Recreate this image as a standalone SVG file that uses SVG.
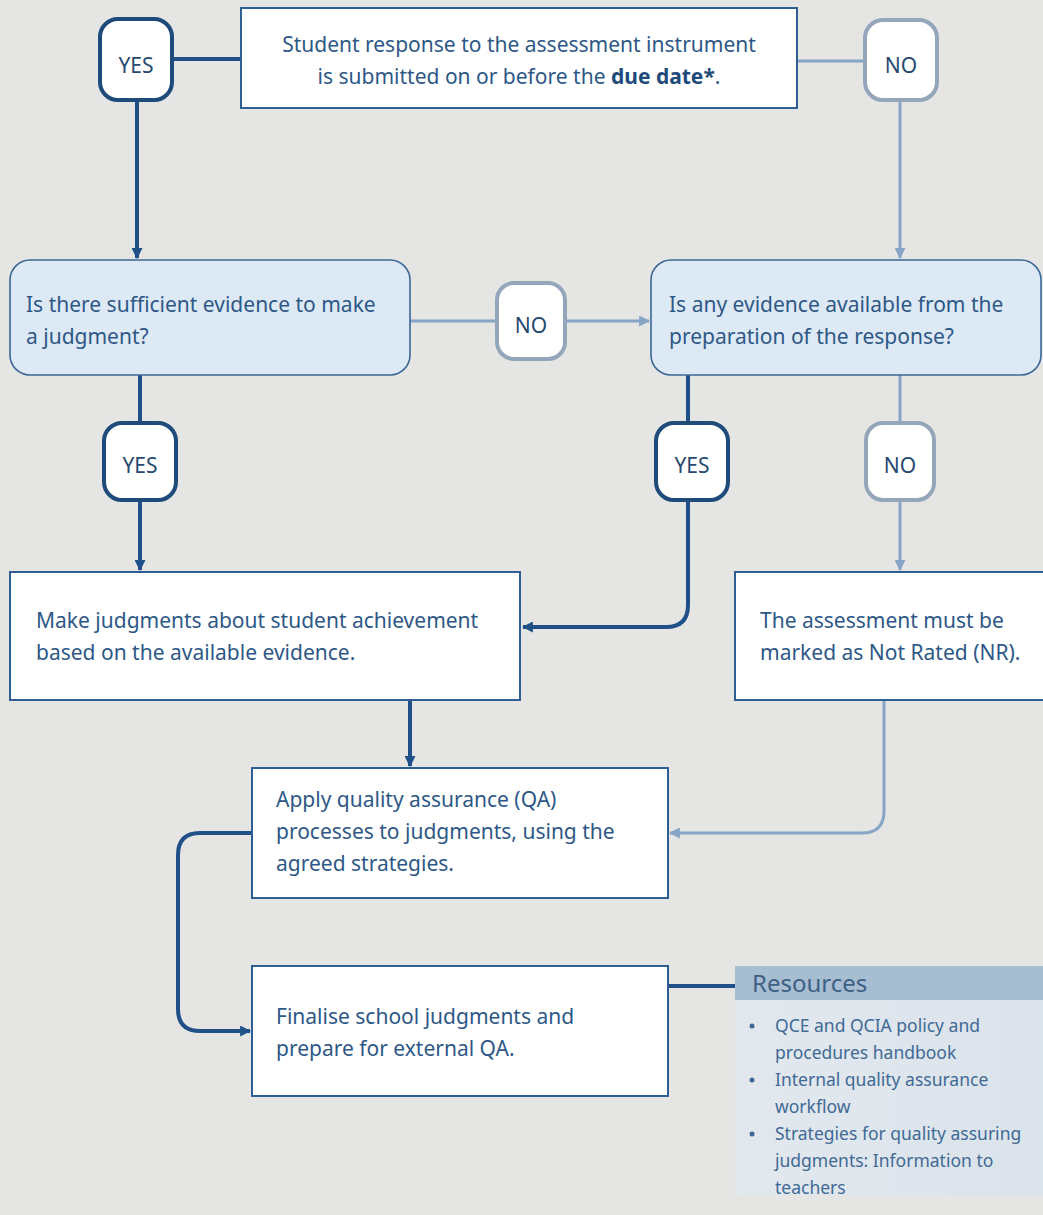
<svg xmlns="http://www.w3.org/2000/svg" width="1043" height="1215" viewBox="0 0 1043 1215">
<style>
.bg{fill:#e5e5e3}
.box{fill:#ffffff;stroke:#2f5f92;stroke-width:2}
.dec{fill:#dde9f4;stroke:#3b6896;stroke-width:1.6}
.pillD{fill:#ffffff;stroke:#1e4b7a;stroke-width:4}
.pillL{fill:#ffffff;stroke:#95a6ba;stroke-width:4}
.t{font-family:"Noto Sans","Open Sans",sans-serif;font-size:21px;fill:#2e5886}
.tp{font-family:"Noto Sans","Open Sans",sans-serif;font-size:21px;fill:#26496f;text-anchor:middle}
.lD{fill:none;stroke:#1f5088;stroke-width:4}
.lL{fill:none;stroke:#87a5c6;stroke-width:3}
.rt{font-family:"Noto Sans","Open Sans",sans-serif;font-size:17.5px;fill:#3f6a96}
</style>
<defs>
<marker id="aD" viewBox="0 0 10 10" refX="9" refY="5" markerWidth="11" markerHeight="11" markerUnits="userSpaceOnUse" orient="auto"><path d="M0,0 L10,5 L0,10 z" fill="#1f5088"/></marker>
<marker id="aL" viewBox="0 0 10 10" refX="9" refY="5" markerWidth="11" markerHeight="11" markerUnits="userSpaceOnUse" orient="auto"><path d="M0,0 L10,5 L0,10 z" fill="#87a5c6"/></marker>
<linearGradient id="rg" x1="0" y1="0" x2="1" y2="0"><stop offset="0" stop-color="#e2e8ee"/><stop offset="1" stop-color="#dbe3eb"/></linearGradient>
</defs>
<rect class="bg" x="0" y="0" width="1043" height="1215"/>
<g id="connectors">
<path class="lD" d="M172,59 H241"/>
<path class="lD" d="M137,100 V258" marker-end="url(#aD)"/>
<path class="lL" d="M797,61 H865"/>
<path class="lL" d="M900,100 V258" marker-end="url(#aL)"/>
<path class="lL" d="M410,321 H497"/>
<path class="lL" d="M565,321 H649" marker-end="url(#aL)"/>
<path class="lD" d="M140,375 V423"/>
<path class="lD" d="M140,500 V570" marker-end="url(#aD)"/>
<path class="lD" d="M688,375 V423"/>
<path class="lD" d="M688,500 V605 Q688,627 666,627 H523" marker-end="url(#aD)"/>
<path class="lL" d="M900,375 V423"/>
<path class="lL" d="M900,500 V570" marker-end="url(#aL)"/>
<path class="lD" d="M410,700 V766" marker-end="url(#aD)"/>
<path class="lL" d="M884,700 V811 Q884,833 862,833 H670" marker-end="url(#aL)"/>
<path class="lD" d="M252,833 H200 Q178,833 178,855 V1009 Q178,1031 200,1031 H250" marker-end="url(#aD)"/>
<path class="lD" d="M668,986 H735"/>
</g>
<g id="n_submit">
<rect class="box" x="241" y="8" width="556" height="100"/>
<text class="t" x="519" y="52" text-anchor="middle">Student response to the assessment instrument</text>
<text class="t" x="519" y="84" text-anchor="middle">is submitted on or before the <tspan font-weight="bold" fill="#1f4a7a">due date*</tspan>.</text>
</g>
<g id="p_yes1"><rect class="pillD" x="100" y="19" width="72" height="81" rx="18"/><text class="tp" x="136" y="73">YES</text></g>
<g id="p_no1"><rect class="pillL" x="865" y="20" width="72" height="80" rx="18"/><text class="tp" x="901" y="73">NO</text></g>
<g id="n_sufficient">
<rect class="dec" x="10" y="260" width="400" height="115" rx="20"/>
<text class="t" x="26" y="312">Is there sufficient evidence to make</text>
<text class="t" x="26" y="344">a judgment?</text>
</g>
<g id="p_no2"><rect class="pillL" x="497" y="283" width="68" height="76" rx="17"/><text class="tp" x="531" y="333">NO</text></g>
<g id="n_any">
<rect class="dec" x="651" y="260" width="390" height="115" rx="20"/>
<text class="t" x="669" y="312">Is any evidence available from the</text>
<text class="t" x="669" y="344">preparation of the response?</text>
</g>
<g id="p_yes2"><rect class="pillD" x="104" y="423" width="72" height="77" rx="18"/><text class="tp" x="140" y="473">YES</text></g>
<g id="p_yes3"><rect class="pillD" x="656" y="423" width="72" height="77" rx="18"/><text class="tp" x="692" y="473">YES</text></g>
<g id="p_no3"><rect class="pillL" x="866" y="423" width="68" height="77" rx="17"/><text class="tp" x="900" y="473">NO</text></g>
<g id="n_make">
<rect class="box" x="10" y="572" width="510" height="128"/>
<text class="t" x="36" y="628">Make judgments about student achievement</text>
<text class="t" x="36" y="660">based on the available evidence.</text>
</g>
<g id="n_nr">
<rect class="box" x="735" y="572" width="310" height="128"/>
<text class="t" x="760" y="628">The assessment must be</text>
<text class="t" x="760" y="660">marked as Not Rated (NR).</text>
</g>
<g id="n_qa">
<rect class="box" x="252" y="768" width="416" height="130"/>
<text class="t" x="276" y="807">Apply quality assurance (QA)</text>
<text class="t" x="276" y="839">processes to judgments, using the</text>
<text class="t" x="276" y="871">agreed strategies.</text>
</g>
<g id="n_final">
<rect class="box" x="252" y="966" width="416" height="130"/>
<text class="t" x="276" y="1024">Finalise school judgments and</text>
<text class="t" x="276" y="1056">prepare for external QA.</text>
</g>
<g id="n_resources">
<rect x="735" y="1000" width="308" height="195" fill="url(#rg)"/>
<rect x="735" y="966" width="308" height="34" fill="#a7bdd2"/>
<text x="752" y="992" font-family="Noto Sans, sans-serif" font-size="24" fill="#3d6184">Resources</text>
<circle cx="752" cy="1026" r="2.5" fill="#3f6a96"/>
<text class="rt" x="775" y="1032">QCE and QCIA policy and</text>
<text class="rt" x="775" y="1059">procedures handbook</text>
<circle cx="752" cy="1080" r="2.5" fill="#3f6a96"/>
<text class="rt" x="775" y="1086">Internal quality assurance</text>
<text class="rt" x="775" y="1113">workflow</text>
<circle cx="752" cy="1134" r="2.5" fill="#3f6a96"/>
<text class="rt" x="775" y="1140">Strategies for quality assuring</text>
<text class="rt" x="775" y="1167">judgments: Information to</text>
<text class="rt" x="775" y="1194">teachers</text>
</g>
</svg>
